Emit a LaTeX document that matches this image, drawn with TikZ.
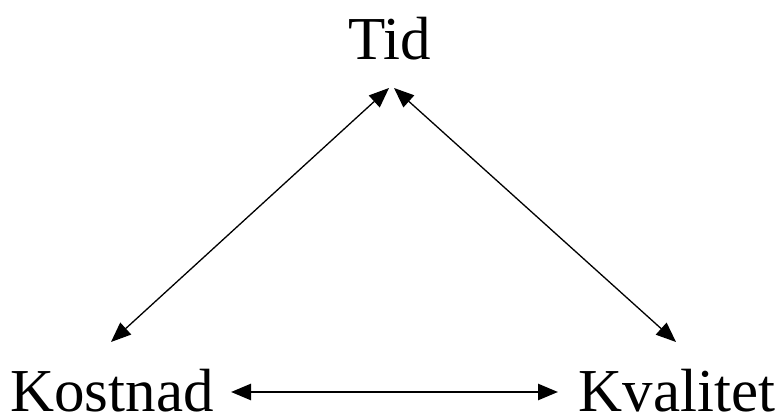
\documentclass[tikz,border=0pt]{standalone}
\usepackage{fontspec}
\setmainfont{Liberation Serif}
\usetikzlibrary{arrows.meta}
\begin{document}
\begin{tikzpicture}[x=1pt,y=1pt,
  lbl/.style={font=\fontsize{61}{61}\selectfont, inner sep=0pt, text depth=0pt, anchor=base},
  conn/.style={{Triangle[length=20pt,width=16pt]}-{Triangle[length=20pt,width=16pt]}, line width=1.3pt}]
\useasboundingbox (0,0) rectangle (779,417);
\node[lbl] (tid) at (390,357) {Tid};
\node[lbl] (kost) at (112,5) {Kostnad};
\node[lbl] (kval) at (677,5) {Kvalitet};
\coordinate (tl) at (389,329);
\coordinate (tr) at (394,329);
\coordinate (kb) at (111,75);
\coordinate (qb) at (676,75);
\coordinate (hl) at (231,25);
\coordinate (hr) at (558,25);
\draw[conn] (kb) -- (tl);
\draw[conn] (tr) -- (qb);
\draw[conn, line width=2.6pt] (hl) -- (hr);
\end{tikzpicture}
\end{document}
